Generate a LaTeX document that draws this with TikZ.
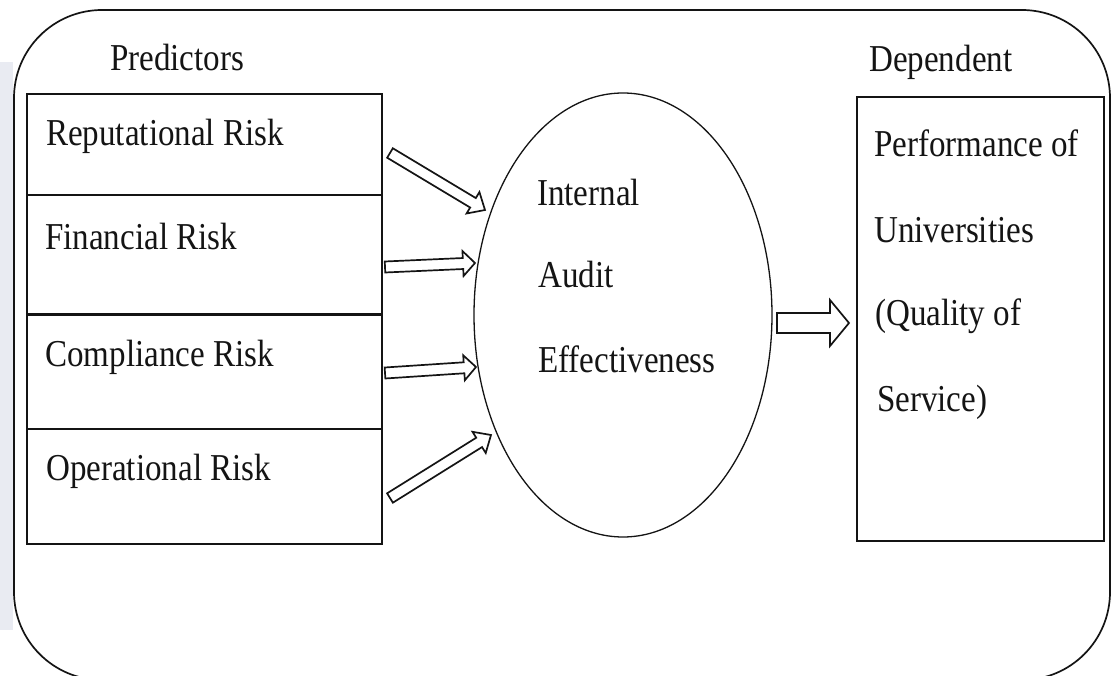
\documentclass[tikz,border=0pt]{standalone}
\usepackage{fontspec}
\setmainfont{Liberation Serif}
\usetikzlibrary{calc,shapes.geometric}
\definecolor{stripecol}{RGB}{233,235,242}
\definecolor{inkcol}{RGB}{20,20,20}
\tikzset{
  lbl/.style={inner sep=0pt, anchor=base west, text=inkcol, font=\fontsize{38}{40}\selectfont},
  boxnode/.style={draw=inkcol, line width=1.7pt, inner sep=0pt, anchor=north west},
  blk/.style={draw=inkcol, line width=1.7pt, line join=miter, fill=white},
}
\newcommand\sx[1]{\scalebox{0.87}[1]{#1}}
\newcommand\blockarrow[5]{%
  \coordinate (ba-h) at ($(#2)!#5!(#1)$);
  \draw[blk] ($(#1)!#3!90:(#2)$) -- ($(ba-h)!#3!90:(#2)$) -- ($(ba-h)!#4!90:(#2)$) -- (#2)
    -- ($(ba-h)!#4!-90:(#2)$) -- ($(ba-h)!#3!-90:(#2)$) -- ($(#1)!#3!-90:(#2)$) -- cycle;}
\begin{document}
\begin{tikzpicture}[x=1pt,y=-1pt]
\useasboundingbox (0,0) rectangle (1112,676);
\clip (0,0) rectangle (1112,676);
\fill[white] (0,0) rectangle (1112,676);
\fill[stripecol] (0,62) rectangle (13,630);
% outer frame
\draw[inkcol, line width=1.7pt, rounded corners=88pt] (14,10) rectangle (1110,680);
% predictor boxes
\node[boxnode, minimum width=355pt, minimum height=101pt] (rep) at (26,93) {};
\node[boxnode, minimum width=355pt, minimum height=119pt] (fin) at (26,194) {};
\node[boxnode, minimum width=355pt, minimum height=115pt] (comp) at (26,313) {};
\node[boxnode, minimum width=355pt, minimum height=115pt] (op) at (26,428) {};
\draw[inkcol, line width=3pt] (fin.south west) -- (fin.south east);
% ellipse
\node[ellipse, draw=inkcol, line width=1.3pt, minimum width=298pt, minimum height=444pt, inner sep=0pt] (iae) at (623,315) {};
% dependent box
\node[boxnode, minimum width=247pt, minimum height=444pt] (perf) at (856,96) {};
% labels
\node[lbl] (predlbl) at (110,71) {\sx{Predictors}};
\node[lbl] (deplbl) at (869,72) {\sx{Dependent}};
\node[lbl] (t-rep) at (46,146) {\sx{Reputational Risk}};
\node[lbl] (t-fin) at (45,250) {\sx{Financial Risk}};
\node[lbl] (t-comp) at (45,367) {\sx{Compliance Risk}};
\node[lbl] (t-op) at (46,480) {\sx{Operational Risk}};
\node[lbl] (t-int) at (537,206) {\sx{Internal}};
\node[lbl] (t-aud) at (538,288) {\sx{Audit}};
\node[lbl] (t-eff) at (538,373) {\sx{Effectiveness}};
\node[lbl] (t-perf) at (874,157) {\sx{Performance of}};
\node[lbl] (t-uni) at (874,243) {\sx{Universities}};
\node[lbl] (t-qual) at (875,326) {\sx{(Quality of}};
\node[lbl] (t-serv) at (877,412) {\sx{Service)}};
% arrows
\coordinate (a1s) at (390,153); \coordinate (a1e) at (485,210);
\coordinate (a2s) at (385,267); \coordinate (a2e) at (475,263);
\coordinate (a3s) at (385,373); \coordinate (a3e) at (476,367);
\coordinate (a4s) at (390,498); \coordinate (a4e) at (491,435);
\coordinate (a5s) at (777,323); \coordinate (a5e) at (849,323);
\blockarrow{a1s}{a1e}{5.5pt}{12.5pt}{14pt}
\blockarrow{a2s}{a2e}{5.5pt}{12.5pt}{12pt}
\blockarrow{a3s}{a3e}{5.5pt}{12.5pt}{12pt}
\blockarrow{a4s}{a4e}{5.5pt}{12.5pt}{14pt}
\blockarrow{a5s}{a5e}{10pt}{23pt}{19pt}
\end{tikzpicture}
\end{document}
